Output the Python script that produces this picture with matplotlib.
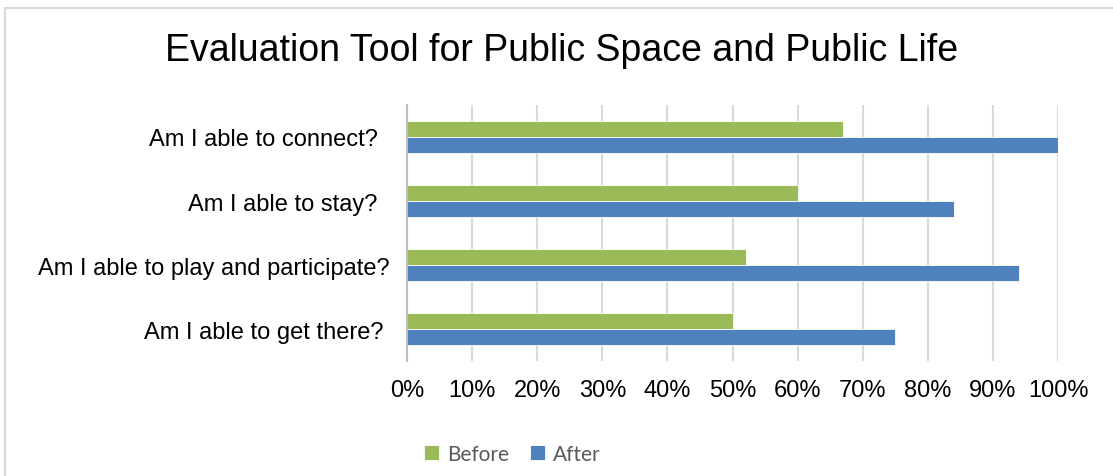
import matplotlib.pyplot as plt
import matplotlib.transforms as mtransforms
import numpy as np
from matplotlib.patches import Rectangle
from matplotlib.ticker import PercentFormatter

# questions, listed bottom to top as they appear on the axis
questions = ["Am I able to get there?",
             "Am I able to play and participate?",
             "Am I able to stay?",
             "Am I able to connect?"]
before = [50, 52, 60, 67]
after = [75, 94, 84, 100]

# small per-label nudges (pixels) of the question labels towards the axis
label_nudge = [6, 12, 0, 0]

GREEN = "#9BBB59"
BLUE = "#4F81BD"
GRID = "#d9d9d9"

plt.rcParams["font.family"] = ["Liberation Sans", "DejaVu Sans"]

fig = plt.figure(figsize=(11.13, 4.77), dpi=100)
ax = fig.add_axes([407 / 1113, 1 - 362 / 477, 651 / 1113, 256 / 477])

# outer frame of the chart area (runs off the right and bottom edges)
fig.patches.append(Rectangle((5 / 1113, -0.05), 1.2, 1 - 9 / 477 + 0.05,
                             transform=fig.transFigure, fill=False,
                             edgecolor="#d9d9d9", linewidth=1.5))

y = np.arange(len(questions))
h = 0.25
ax.barh(y + h / 2, before, height=h, color=GREEN, edgecolor="white",
        linewidth=0.6, label="Before", zorder=3)
ax.barh(y - h / 2, after, height=h, color=BLUE, edgecolor="white",
        linewidth=0.6, label="After", zorder=3)

ax.set_xlim(0, 100)
ax.set_ylim(-0.5, len(questions) - 0.5)
ax.set_xticks(np.arange(0, 101, 10))
ax.xaxis.set_major_formatter(PercentFormatter(decimals=0))
ax.set_yticks(y)
ax.set_yticklabels(questions)
ax.tick_params(axis="both", length=0, labelsize=17, colors="black")
ax.tick_params(axis="x", pad=13)
ax.tick_params(axis="y", pad=21)

for lbl, dx in zip(ax.get_yticklabels(), label_nudge):
    lbl.set_transform(lbl.get_transform() +
                      mtransforms.ScaledTranslation(dx / 100, 0, fig.dpi_scale_trans))

ax.grid(axis="x", color=GRID, linewidth=1.5, zorder=0)
for side in ("top", "right", "bottom"):
    ax.spines[side].set_visible(False)
ax.spines["left"].set_color("#bfbfbf")
ax.spines["left"].set_linewidth(1.5)
ax.spines["left"].set_zorder(4)

fig.text(562 / 1113, 1 - 51 / 477, "Evaluation Tool for Public Space and Public Life",
         ha="center", va="center", fontsize=27)

fig.legend(loc="center", bbox_to_anchor=(512 / 1113, 1 - 455 / 477),
           ncol=2, frameon=False, labelcolor="#595959",
           handlelength=0.75, handleheight=0.75, handletextpad=0.35,
           columnspacing=1.0, prop={"family": ["Lato", "DejaVu Sans"], "size": 15})

fig.savefig("out.png", dpi=100)
